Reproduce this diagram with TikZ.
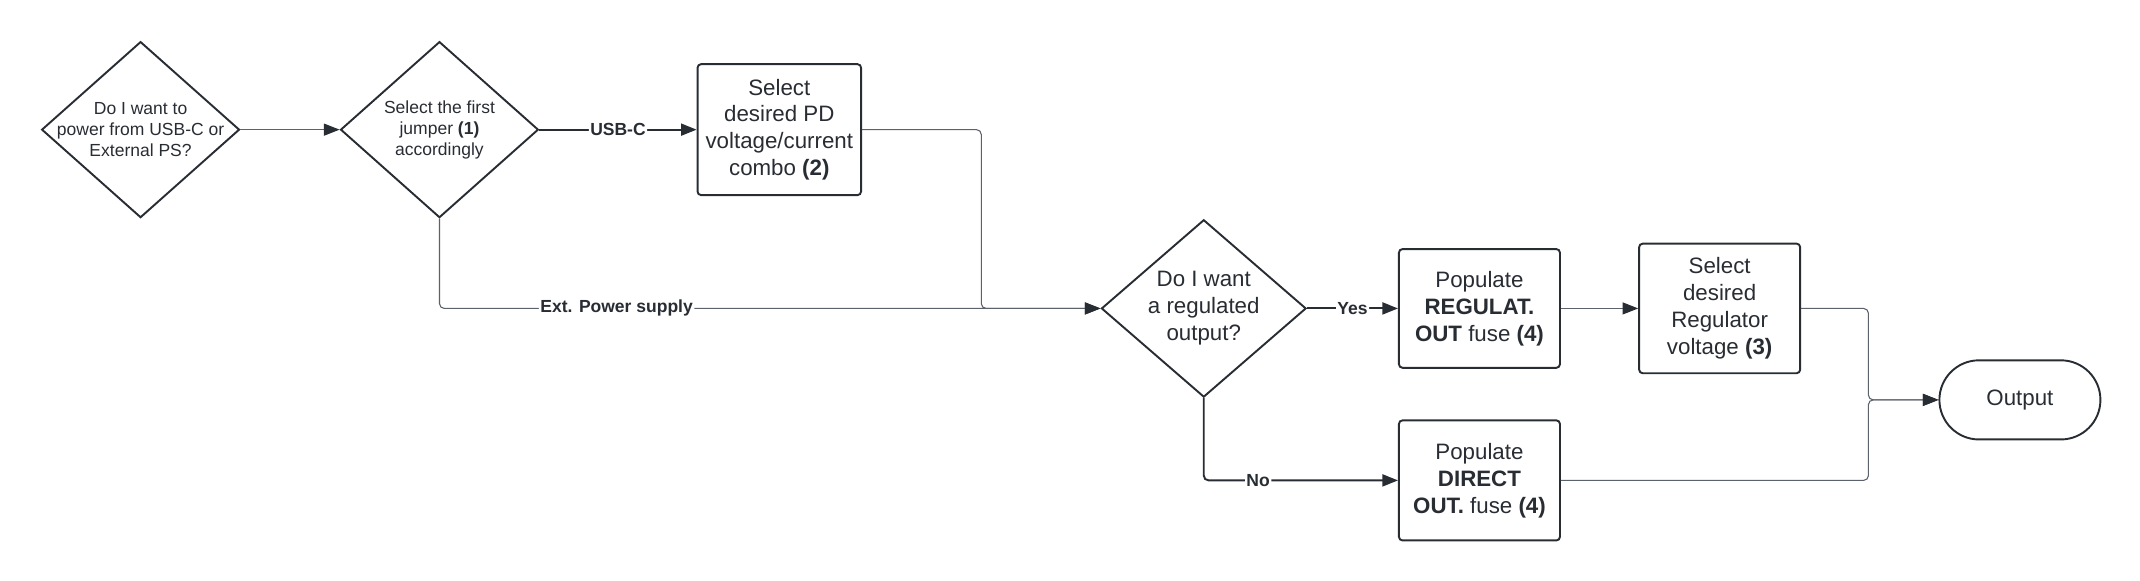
\documentclass[tikz,border=0pt]{standalone}
\usepackage{fontspec}
\setmainfont{Liberation Sans}
\usetikzlibrary{shapes.geometric,arrows.meta}
\definecolor{ink}{HTML}{282C33}
\definecolor{wire}{HTML}{5C626B}
\begin{document}
\begin{tikzpicture}[x=0.02cm,y=-0.02cm,
    every node/.style={text=ink,font=\fontsize{9.3}{11.2}\selectfont,align=center},
    small/.style={font=\fontsize{7.3}{8.8}\selectfont},
    decision/.style={diamond,draw=ink,line width=0.8pt,minimum width=2.9cm,minimum height=2.58cm,inner sep=-8pt},
    process/.style={rectangle,draw=ink,line width=0.8pt,rounded corners=1.5pt,minimum width=2.36cm},
    terminal/.style={rectangle,draw=ink,line width=0.8pt,rounded corners=0.58cm,minimum width=2.36cm,minimum height=1.16cm},
    flow/.style={draw=wire,line width=0.45pt,rounded corners=2pt,-{Triangle[length=6.5pt,width=5pt,color=ink]}},
    strong/.style={draw=ink,line width=0.8pt},
    tag/.style={fill=white,inner sep=0.6pt,font=\fontsize{7.3}{8.8}\selectfont\bfseries}]
  \useasboundingbox (0,0) rectangle (1568,425);
  \node[decision,small] (power) at (103,95) {Do I want to\\power from USB-C or\\External PS?};
  \node[decision,small] (jumper) at (322,95) {Select the first\\jumper \textbf{(1)}\\accordingly};
  \node[process,minimum height=1.92cm] (pd) at (571,95) {Select\\desired PD\\voltage/current\\combo \textbf{(2)}};
  \node[decision,minimum width=3cm,minimum height=2.6cm] (regq) at (882,226) {Do I want\\a regulated\\output?};
  \node[process,minimum height=1.74cm] (regfuse) at (1084,226) {Populate\\\textbf{REGULAT.}\\\textbf{OUT} fuse \textbf{(4)}};
  \node[process,minimum height=1.9cm] (vsel) at (1260,226) {Select\\desired\\Regulator\\voltage \textbf{(3)}};
  \node[process,minimum height=1.76cm] (direct) at (1084,352) {Populate\\\textbf{DIRECT}\\\textbf{OUT.} fuse \textbf{(4)}};
  \node[terminal] (out) at (1480,293) {Output};
  \coordinate (pdbend) at (719,226);
  \coordinate (join) at (1369,293);
  \begin{scope}[flow]
    \draw (power) to (jumper);
    \draw[strong] (jumper) to node[tag]{USB-C} (pd);
    \draw (jumper.south) |- node[tag,pos=0.634]{Ext. Power supply} (regq.west);
    \draw (pd.east) -| (pdbend) -- (regq.west);
    \draw[strong] (regq) to node[tag]{Yes} (regfuse);
    \draw[strong] (regq.south) |- node[tag,pos=0.64]{No} (direct.west);
    \draw (regfuse) to (vsel);
    \draw (vsel.east) -| (join) -- (out.west);
    \draw (direct.east) -| (join) -- (out.west);
  \end{scope}
\end{tikzpicture}
\end{document}
